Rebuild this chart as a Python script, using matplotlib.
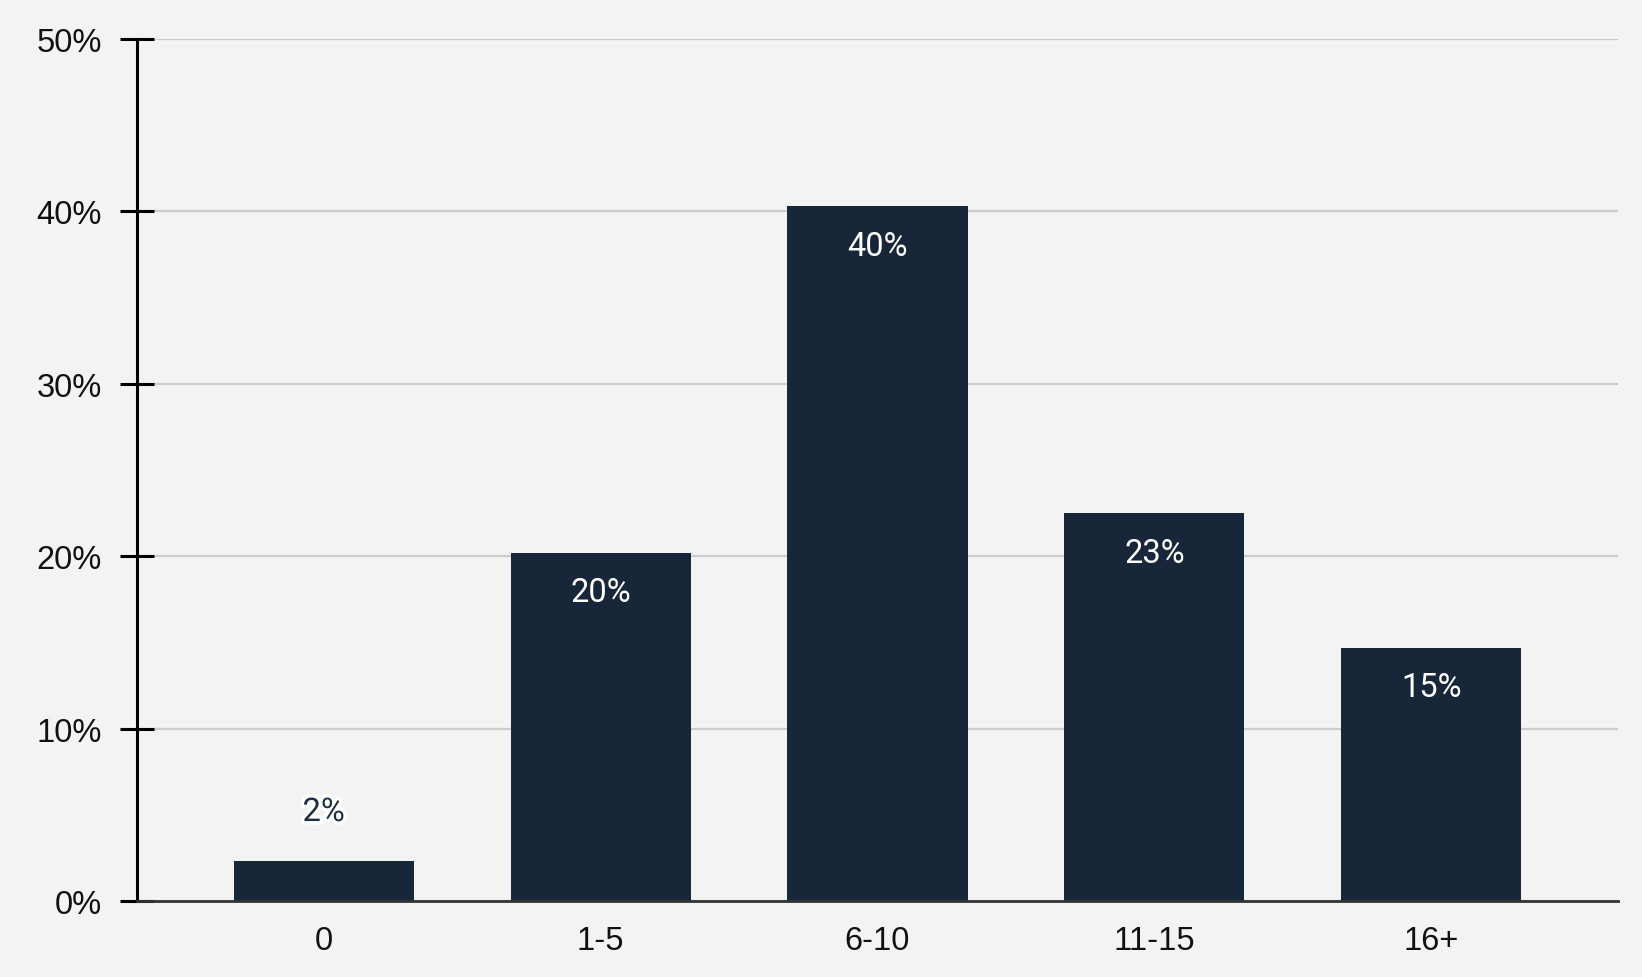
import matplotlib
matplotlib.use("Agg")
import matplotlib.pyplot as plt
import matplotlib.patheffects as pe

categories = ["0", "1-5", "6-10", "11-15", "16+"]
values = [2.3, 20.2, 40.3, 22.5, 14.7]
labels = ["2%", "20%", "40%", "23%", "15%"]
yticks = [0, 10, 20, 30, 40, 50]
ytick_labels = ["0%", "10%", "20%", "30%", "40%", "50%"]

BG = "#f3f3f3"
BAR = "#172638"

fig = plt.figure(figsize=(16.42, 9.78), dpi=100, facecolor=BG)
ax = fig.add_axes([137/1642, (978-902)/978, (1618-137)/1642, (902-40)/978])
ax.set_facecolor(BG)

x = list(range(len(categories)))
ax.bar(x, values, width=0.65, color=BAR, zorder=3)

ax.set_xlim(-0.674, len(categories) - 1 + 0.674)
ax.set_ylim(0, 50)
ax.set_yticks(yticks)
ax.set_yticklabels(ytick_labels, fontfamily="Liberation Sans", fontsize=23.5, color="#111111")
ax.set_xticks(x)
ax.set_xticklabels(categories, fontfamily="Liberation Sans", fontsize=23.5, color="#111111")

ax.grid(axis="y", color="#cccccc", linewidth=1.6, zorder=0)
ax.set_axisbelow(True)
for s in ["top", "right"]:
    ax.spines[s].set_visible(False)
ax.spines["left"].set_linewidth(2.2)
ax.spines["left"].set_color("#000000")
ax.spines["bottom"].set_linewidth(2.0)
ax.spines["bottom"].set_color("#333333")
ax.spines["bottom"].set_zorder(4)

ax.tick_params(axis="y", direction="inout", length=24.5, width=2.2, color="#000000", pad=13)
ax.tick_params(axis="x", length=0, pad=17)

for xi, v, lab in zip(x, values, labels):
    if v < 5:
        ax.annotate(lab, (xi, v), xytext=(0, 35.5), textcoords="offset points",
                    ha="center", va="center", fontsize=23.5, family="Roboto", color="#1e2d3d",
                    path_effects=[pe.withStroke(linewidth=5, foreground="white")], zorder=5)
    else:
        ax.annotate(lab, (xi, v), xytext=(0, -28.5), textcoords="offset points",
                    ha="center", va="center", fontsize=23.5, family="Roboto", color="white", zorder=5)

fig.savefig("out.png", dpi=100, facecolor=BG)
